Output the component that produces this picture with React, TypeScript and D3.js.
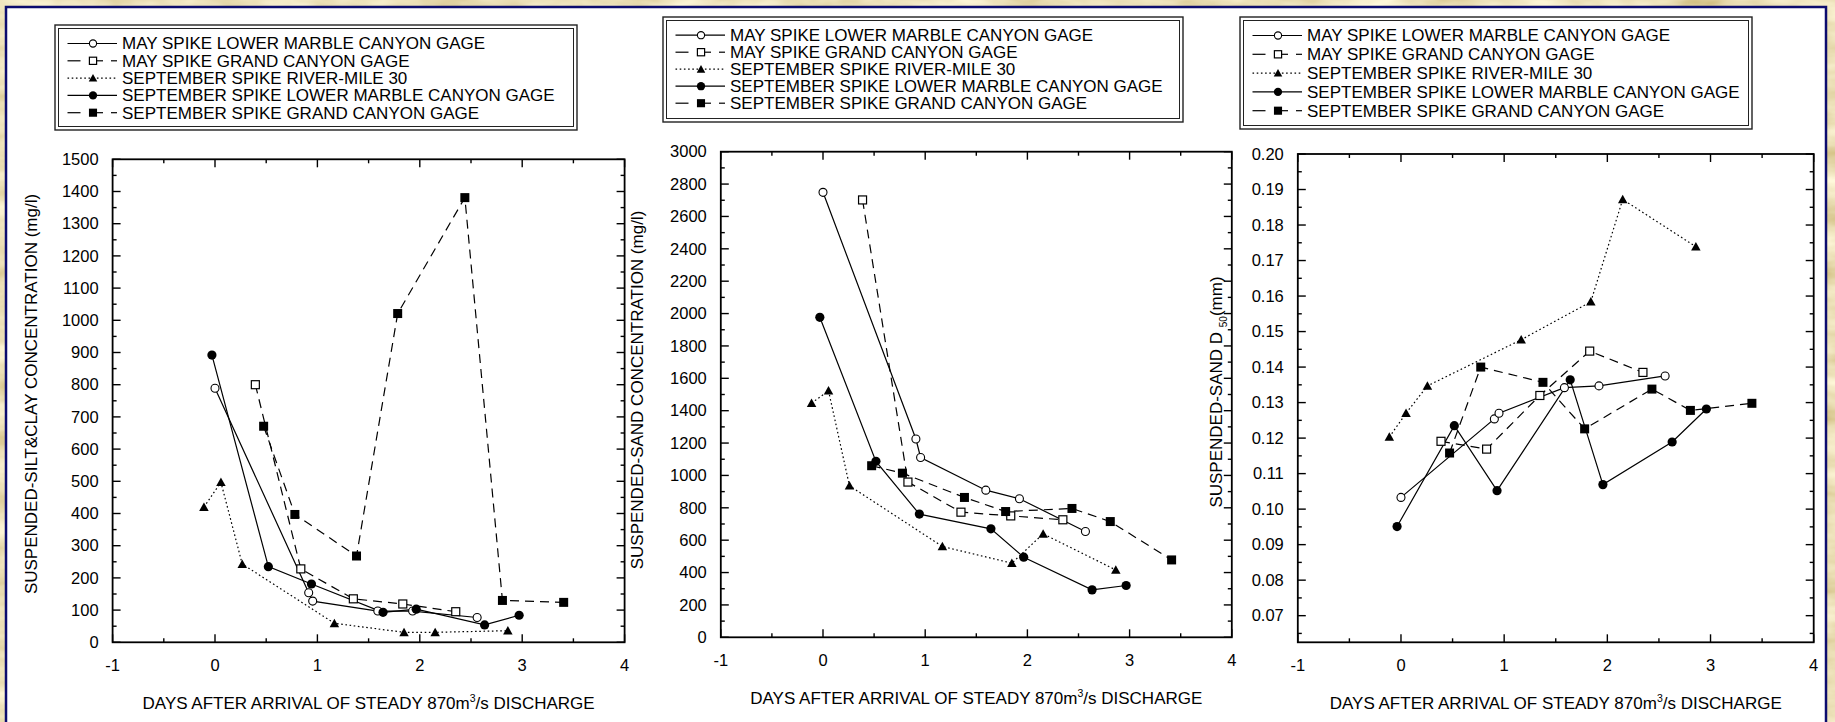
import React from 'react';
import * as d3 from 'd3';

const W = 1835;
const H = 722;
const FONT = "'Liberation Sans', Arial, Helvetica, sans-serif";

type Pt = [number, number];

// ---------- legend / series names ----------
const seriesNames = [
  'MAY SPIKE LOWER MARBLE CANYON GAGE',
  'MAY SPIKE GRAND CANYON GAGE',
  'SEPTEMBER SPIKE RIVER-MILE 30',
  'SEPTEMBER SPIKE LOWER MARBLE CANYON GAGE',
  'SEPTEMBER SPIKE GRAND CANYON GAGE',
];

// ---------- axis ticks ----------
const xMajorTicks = [-1, 0, 1, 2, 3, 4];
const xMinorTicks = [-0.5, 0.5, 1.5, 2.5, 3.5];
const siltMajorTicks = d3.range(0, 1501, 100);
const siltMinorTicks = d3.range(50, 1500, 100);
const sandMajorTicks = d3.range(0, 3001, 200);
const sandMinorTicks = d3.range(100, 3000, 200);
const d50MajorTicks = d3.range(7, 21).map((i) => i / 100);
const d50MinorTicks = d3.range(6.5, 20, 1).map((i) => i / 100);

// ---------- chart 1: silt & clay (mg/l) ----------
const siltMayLMC: Pt[] = [[0, 789], [0.915, 154], [0.954, 128], [1.59, 97], [1.93, 97], [2.56, 77]];
const siltMayGC: Pt[] = [[0.394, 800], [0.838, 228], [1.351, 135], [1.834, 119], [2.351, 95]];
const siltSepRM30: Pt[] = [[-0.108, 420], [0.058, 497], [0.266, 243], [1.166, 59], [1.846, 31], [2.15, 31], [2.86, 36]];
const siltSepLMC: Pt[] = [[-0.03, 892], [0.521, 235], [0.942, 181], [1.641, 93], [1.965, 103], [2.633, 54], [2.97, 84]];
const siltSepGC: Pt[] = [[0.475, 671], [0.78, 397], [1.382, 268], [1.784, 1021], [2.44, 1381], [2.807, 130], [3.405, 124]];

// ---------- chart 2: sand (mg/l) ----------
const sandMayLMC: Pt[] = [[0, 2749], [0.909, 1225], [0.955, 1111], [1.593, 909], [1.922, 856], [2.568, 654]];
const sandMayGC: Pt[] = [[0.387, 2702], [0.831, 959], [1.35, 773], [1.837, 750], [2.347, 726]];
const sandSepRM30: Pt[] = [[-0.112, 1447], [0.054, 1523], [0.259, 936], [1.168, 561], [1.848, 458], [2.154, 639], [2.865, 416]];
const sandSepLMC: Pt[] = [[-0.031, 1977], [0.518, 1087], [0.943, 761], [1.643, 670], [1.964, 495], [2.633, 293], [2.966, 320]];
const sandSepGC: Pt[] = [[0.476, 1060], [0.777, 1014], [1.384, 864], [1.787, 777], [2.436, 796], [2.811, 715], [3.411, 478]];

// ---------- chart 3: sand D50 (mm) ----------
const d50MayLMC: Pt[] = [[0, 0.1033], [0.905, 0.1254], [0.95, 0.127], [1.584, 0.1342], [1.919, 0.1347], [2.56, 0.1375]];
const d50MayGC: Pt[] = [[0.388, 0.1191], [0.83, 0.1169], [1.346, 0.132], [1.829, 0.1445], [2.345, 0.1385]];
const d50SepRM30: Pt[] = [[-0.113, 0.1203], [0.049, 0.127], [0.256, 0.1347], [1.165, 0.1477], [1.84, 0.1584], [2.149, 0.1872], [2.858, 0.1739]];
const d50SepLMC: Pt[] = [[-0.038, 0.0951], [0.517, 0.1235], [0.931, 0.1052], [1.64, 0.1364], [1.957, 0.1069], [2.628, 0.1189], [2.96, 0.1282]];
const d50SepGC: Pt[] = [[0.471, 0.1158], [0.773, 0.14], [1.376, 0.1357], [1.78, 0.1226], [2.432, 0.1338], [2.805, 0.1278], [3.401, 0.1298]];

type MarkerType = 'circleOpen' | 'squareOpen' | 'triangle' | 'circleFilled' | 'squareFilled';
const seriesStyles: { marker: MarkerType; dash: string | undefined }[] = [
  { marker: 'circleOpen', dash: undefined },
  { marker: 'squareOpen', dash: '9,6' },
  { marker: 'triangle', dash: '1.6,2.6' },
  { marker: 'circleFilled', dash: undefined },
  { marker: 'squareFilled', dash: '9,6' },
];

function Marker({ type, x, y, k = 1 }: { type: MarkerType; x: number; y: number; k?: number }) {
  switch (type) {
    case 'circleOpen':
      return <circle cx={x} cy={y} r={4 * k} fill="#fff" stroke="#000" strokeWidth={1.1} />;
    case 'circleFilled':
      return <circle cx={x} cy={y} r={4.6 * k} fill="#000" />;
    case 'squareOpen': {
      const s = 8 * k;
      return <rect x={x - s / 2} y={y - s / 2} width={s} height={s} fill="#fff" stroke="#000" strokeWidth={1.2} />;
    }
    case 'squareFilled': {
      const s = 9 * k;
      return <rect x={x - s / 2} y={y - s / 2} width={s} height={s} fill="#000" />;
    }
    case 'triangle': {
      const w = 9.5 * k;
      const h = 8.5 * k;
      return <path d={`M${x - w / 2},${y + h * 0.45}L${x + w / 2},${y + h * 0.45}L${x},${y - h * 0.55}Z`} fill="#000" />;
    }
  }
  return null;
}

interface PanelCfg {
  xLeft: number; xRight: number; yTop: number; yBottom: number;
  yDomain: [number, number]; yMajor: number[]; yMinor: number[];
  fmt: (v: number) => string;
  yLabelX: number; yLabelY: number; yLabel: React.ReactNode;
  series: Pt[][];
}

const titleX = (
  <>
    DAYS AFTER ARRIVAL OF STEADY 870m<tspan fontSize={10.5} dy={-7}>3</tspan>
    <tspan dy={7}>/s DISCHARGE</tspan>
  </>
);

const panels: PanelCfg[] = [
  {
    xLeft: 112.6, xRight: 624.6, yTop: 159.3, yBottom: 642.3,
    yDomain: [0, 1500], yMajor: siltMajorTicks, yMinor: siltMinorTicks,
    fmt: (v) => String(v), yLabelX: 31, yLabelY: 394,
    yLabel: 'SUSPENDED-SILT&CLAY CONCENTRATION (mg/l)',
    series: [siltMayLMC, siltMayGC, siltSepRM30, siltSepLMC, siltSepGC],
  },
  {
    xLeft: 720.8, xRight: 1231.8, yTop: 151.7, yBottom: 637.3,
    yDomain: [0, 3000], yMajor: sandMajorTicks, yMinor: sandMinorTicks,
    fmt: (v) => String(v), yLabelX: 637, yLabelY: 390,
    yLabel: 'SUSPENDED-SAND CONCENTRATION (mg/l)',
    series: [sandMayLMC, sandMayGC, sandSepRM30, sandSepLMC, sandSepGC],
  },
  {
    xLeft: 1297.8, xRight: 1813.7, yTop: 154, yBottom: 642.3,
    yDomain: [0.0625, 0.2], yMajor: d50MajorTicks, yMinor: d50MinorTicks,
    fmt: (v) => v.toFixed(2), yLabelX: 1216, yLabelY: 392,
    yLabel: (
      <>
        SUSPENDED-SAND D <tspan fontSize={10} dy={5}>50</tspan>
        <tspan dy={-5}>(mm)</tspan>
      </>
    ),
    series: [d50MayLMC, d50MayGC, d50SepRM30, d50SepLMC, d50SepGC],
  },
];

function Chart({ p }: { p: PanelCfg }) {
  const x = d3.scaleLinear().domain([-1, 4]).range([p.xLeft, p.xRight]);
  const y = d3.scaleLinear().domain(p.yDomain).range([p.yBottom, p.yTop]);
  const line = d3.line<Pt>().x((d) => x(d[0])).y((d) => y(d[1]));
  const MJ = 8;
  const MN = 4;
  const tk = { stroke: '#000', strokeWidth: 1.4 };
  const cx = (p.xLeft + p.xRight) / 2;
  return (
    <g fontFamily={FONT}>
      {xMajorTicks.map((t) => (
        <g key={'xM' + t}>
          <line x1={x(t)} x2={x(t)} y1={p.yBottom} y2={p.yBottom - MJ} {...tk} />
          <line x1={x(t)} x2={x(t)} y1={p.yTop} y2={p.yTop + MJ} {...tk} />
          <text x={x(t)} y={p.yBottom + 23} dy="0.35em" textAnchor="middle" fontSize={16.5}>{t}</text>
        </g>
      ))}
      {xMinorTicks.map((t) => (
        <g key={'xm' + t}>
          <line x1={x(t)} x2={x(t)} y1={p.yBottom} y2={p.yBottom - MN} {...tk} />
          <line x1={x(t)} x2={x(t)} y1={p.yTop} y2={p.yTop + MN} {...tk} />
        </g>
      ))}
      {p.yMajor.map((t) => (
        <g key={'yM' + t}>
          <line x1={p.xLeft} x2={p.xLeft + MJ} y1={y(t)} y2={y(t)} {...tk} />
          <line x1={p.xRight} x2={p.xRight - MJ} y1={y(t)} y2={y(t)} {...tk} />
          <text x={p.xLeft - 14} y={y(t)} dy="0.35em" textAnchor="end" fontSize={16.5}>{p.fmt(t)}</text>
        </g>
      ))}
      {p.yMinor.map((t) => (
        <g key={'ym' + t}>
          <line x1={p.xLeft} x2={p.xLeft + MN} y1={y(t)} y2={y(t)} {...tk} />
          <line x1={p.xRight} x2={p.xRight - MN} y1={y(t)} y2={y(t)} {...tk} />
        </g>
      ))}
      <rect x={p.xLeft} y={p.yTop} width={p.xRight - p.xLeft} height={p.yBottom - p.yTop}
        fill="none" stroke="#000" strokeWidth={1.8} />
      {p.series.map((s, i) => (
        <path key={'l' + i} d={line(s) || ''} fill="none" stroke="#000" strokeWidth={1.2}
          strokeDasharray={seriesStyles[i].dash} />
      ))}
      {p.series.map((s, i) => (
        <g key={'m' + i}>
          {s.map((d, j) => (
            <Marker key={j} type={seriesStyles[i].marker} x={x(d[0])} y={y(d[1])} />
          ))}
        </g>
      ))}
      <text x={cx} y={p.yBottom + 61} dy="0.35em" textAnchor="middle" fontSize={17}>{titleX}</text>
      <text transform={`translate(${p.yLabelX},${p.yLabelY}) rotate(-90)`} dy="0.35em"
        textAnchor="middle" fontSize={17}>{p.yLabel}</text>
    </g>
  );
}

interface LegendCfg { x0: number; x1: number; y0: number; y1: number; row0: number; step: number; }
const legends: LegendCfg[] = [
  { x0: 55, x1: 577, y0: 25, y1: 130, row0: 43.5, step: 17.3 },
  { x0: 663, x1: 1183, y0: 17, y1: 122, row0: 35.2, step: 17.0 },
  { x0: 1240, x1: 1752, y0: 17, y1: 129, row0: 35.5, step: 18.8 },
];

function LegendSample({ i, s0, s1, mx, yy }: { i: number; s0: number; s1: number; mx: number; yy: number }) {
  const st = { stroke: '#000', strokeWidth: 1.2 };
  if (i === 1 || i === 4) {
    return (
      <g>
        <line x1={s0} x2={s0 + 13} y1={yy} y2={yy} {...st} />
        <line x1={mx - 3} x2={mx + 10} y1={yy} y2={yy} {...st} />
        <line x1={s1 - 6} x2={s1} y1={yy} y2={yy} {...st} />
      </g>
    );
  }
  return <line x1={s0} x2={s1} y1={yy} y2={yy} {...st} strokeDasharray={i === 2 ? '1.6,2.6' : undefined} />;
}

function Legend({ l }: { l: LegendCfg }) {
  const s0 = l.x0 + 12.5;
  const s1 = l.x0 + 62;
  const mx = l.x0 + 38;
  return (
    <g fontFamily={FONT}>
      <rect x={l.x0} y={l.y0} width={l.x1 - l.x0} height={l.y1 - l.y0} fill="#fff" stroke="#222" strokeWidth={1.4} />
      <rect x={l.x0 + 3.5} y={l.y0 + 3.5} width={l.x1 - l.x0 - 7} height={l.y1 - l.y0 - 7} fill="none" stroke="#222" strokeWidth={1} />
      {seriesNames.map((name, i) => {
        const yy = l.row0 + i * l.step;
        return (
          <g key={i}>
            <LegendSample i={i} s0={s0} s1={s1} mx={mx} yy={yy} />
            <Marker type={seriesStyles[i].marker} x={mx} y={yy} k={0.9} />
            <text x={s1 + 5} y={yy} dy="0.35em" fontSize={17}>{name}</text>
          </g>
        );
      })}
    </g>
  );
}

export default function App() {
  return (
    <svg width={W} height={H} viewBox={`0 0 ${W} ${H}`}
      style={{ position: 'absolute', left: 0, top: 0, display: 'block' }}>
      <defs>
        <filter id="parch" x="0" y="0" width="100%" height="100%">
          <feTurbulence type="fractalNoise" baseFrequency="0.012 0.035" numOctaves={4} seed={7} />
          <feColorMatrix type="matrix"
            values="0.55 0 0 0 0.56  0.65 0 0 0 0.42  0.75 0 0 0 0.1  0 0 0 0 1" />
        </filter>
      </defs>
      <rect x={0} y={0} width={W} height={H} fill="#d8bb80" filter="url(#parch)" />
      <rect x={6} y={7} width={1820} height={730} fill="#fff" stroke="#0c0c6e" strokeWidth={2.5} />
      {panels.map((p, i) => <Chart key={i} p={p} />)}
      {legends.map((l, i) => <Legend key={i} l={l} />)}
    </svg>
  );
}
